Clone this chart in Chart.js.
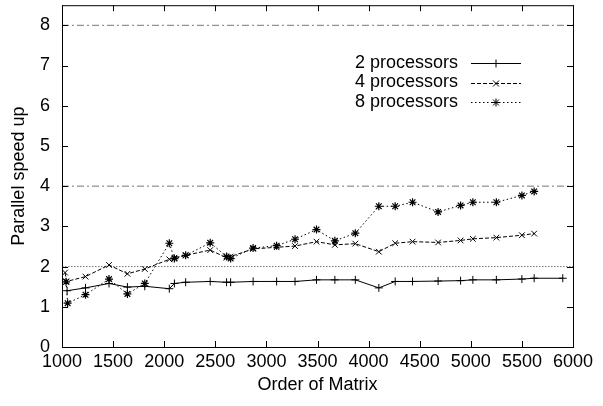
<!DOCTYPE html>
<html>
<head>
<meta charset="utf-8">
<script src="https://cdn.jsdelivr.net/npm/chart.js@4.4.0/dist/chart.umd.min.js"></script>
<style>
html, body { margin: 0; padding: 0; background: #fff; }
</style>
</head>
<body>
<canvas id="myChart" width="603" height="406"></canvas>
<script>
// data
const order2 = [1050, 1230, 1460, 1640, 1810, 2050, 2100, 2210, 2450, 2610, 2650, 2870, 3100, 3280, 3490, 3670, 3870, 4100, 4260, 4430, 4680, 4900, 5020, 5250, 5500, 5620, 5900];
const speed2 = [1.40, 1.47, 1.58, 1.49, 1.51, 1.45, 1.58, 1.61, 1.63, 1.61, 1.61, 1.63, 1.63, 1.63, 1.67, 1.67, 1.67, 1.47, 1.63, 1.63, 1.64, 1.65, 1.67, 1.67, 1.69, 1.71, 1.71];

const order4 = [1030, 1045, 1230, 1460, 1640, 1810, 2050, 2100, 2210, 2450, 2610, 2650, 2870, 3100, 3280, 3490, 3670, 3870, 4100, 4260, 4430, 4680, 4900, 5020, 5250, 5500, 5620];
const speed4 = [1.85, 1.63, 1.75, 2.04, 1.82, 1.94, 2.18, 2.22, 2.28, 2.41, 2.22, 2.25, 2.44, 2.48, 2.51, 2.62, 2.54, 2.57, 2.37, 2.58, 2.62, 2.60, 2.65, 2.69, 2.72, 2.78, 2.82];

const order8 = [1040, 1055, 1230, 1460, 1640, 1810, 2050, 2100, 2210, 2450, 2610, 2650, 2870, 3100, 3280, 3490, 3670, 3870, 4100, 4260, 4430, 4680, 4900, 5020, 5250, 5500, 5620];
const speed8 = [1.62, 1.09, 1.30, 1.69, 1.32, 1.58, 2.58, 2.20, 2.28, 2.59, 2.25, 2.20, 2.46, 2.52, 2.68, 2.92, 2.64, 2.83, 3.50, 3.50, 3.60, 3.36, 3.52, 3.60, 3.60, 3.77, 3.87];

const seriesNames = ['2 processors', '4 processors', '8 processors'];
const refLevels = [8, 4, 2];
const xRange = [1000, 6000];
const yTicks = [0, 1, 2, 3, 4, 5, 6, 7, 8];

function pts(xs, ys) {
    return xs.map((x, i) => ({x: x, y: ys[i]}));
}

function refLine(level, dash) {
    return {
        label: 'ref' + level,
        data: xRange.map(x => ({x: x, y: level})),
        borderColor: '#777',
        borderWidth: 1,
        borderDash: dash,
        pointRadius: 0,
        fill: false
    };
}

function mark(ctx, style, x, y, r) {
    ctx.beginPath();
    if (style === 'cross' || style === 'star') {
        ctx.moveTo(x - r, y); ctx.lineTo(x + r, y);
        ctx.moveTo(x, y - r); ctx.lineTo(x, y + r);
    }
    if (style === 'crossRot' || style === 'star') {
        const d = r * 0.75;
        ctx.moveTo(x - d, y - d); ctx.lineTo(x + d, y + d);
        ctx.moveTo(x - d, y + d); ctx.lineTo(x + d, y - d);
    }
    ctx.stroke();
}

// border box with inward ticks, like gnuplot
const framePlugin = {
    id: 'frame',
    afterDatasetsDraw(chart) {
        const {ctx, chartArea: a, scales} = chart;
        ctx.save();
        ctx.strokeStyle = '#000';
        ctx.lineWidth = 1;
        ctx.setLineDash([]);
        ctx.strokeRect(a.left + 0.5, a.top + 0.5, a.right - a.left, a.bottom - a.top);
        ctx.beginPath();
        scales.y.ticks.forEach(t => {
            const py = Math.round(scales.y.getPixelForValue(t.value)) + 0.5;
            ctx.moveTo(a.left, py); ctx.lineTo(a.left + 6, py);
            ctx.moveTo(a.right, py); ctx.lineTo(a.right - 6, py);
        });
        scales.x.ticks.forEach(t => {
            const px = Math.round(scales.x.getPixelForValue(t.value)) + 0.5;
            ctx.moveTo(px, a.bottom); ctx.lineTo(px, a.bottom - 6);
            ctx.moveTo(px, a.top); ctx.lineTo(px, a.top + 6);
        });
        ctx.stroke();
        ctx.restore();
    }
};

// key in the upper right, text before the line sample
const keyPlugin = {
    id: 'key',
    afterDatasetsDraw(chart) {
        const ctx = chart.ctx;
        ctx.save();
        ctx.font = '18px "Liberation Sans", Arial, sans-serif';
        ctx.fillStyle = '#000';
        ctx.textAlign = 'right';
        ctx.textBaseline = 'middle';
        seriesNames.forEach((name, i) => {
            const ds = chart.data.datasets[i];
            const y = 63 + i * 19.5;
            ctx.fillText(name, 458, y);
            ctx.strokeStyle = '#000';
            ctx.lineWidth = 1;
            ctx.setLineDash(ds.borderDash || []);
            ctx.beginPath();
            ctx.moveTo(471, Math.round(y) + 0.5);
            ctx.lineTo(521, Math.round(y) + 0.5);
            ctx.stroke();
            ctx.setLineDash([]);
            mark(ctx, ds.pointStyle, 496, Math.round(y) + 0.5, 4);
        });
        ctx.restore();
    }
};

Chart.defaults.font.family = '"Liberation Sans", Arial, sans-serif';
Chart.defaults.font.size = 18;
Chart.defaults.color = '#000';

let myChart = document.getElementById('myChart').getContext('2d');
let lineChart = new Chart(myChart, {
    type: 'line',
    data: {
        datasets: [
            {
                label: seriesNames[0],
                data: pts(order2, speed2),
                borderColor: '#000',
                borderWidth: 1,
                pointStyle: 'cross',
                pointRadius: 4,
                pointBorderColor: '#000',
                pointBorderWidth: 1
            },
            {
                label: seriesNames[1],
                data: pts(order4, speed4),
                borderColor: '#000',
                borderWidth: 1,
                borderDash: [4, 2],
                pointStyle: 'crossRot',
                pointRadius: 4,
                pointBorderColor: '#000',
                pointBorderWidth: 1
            },
            {
                label: seriesNames[2],
                data: pts(order8, speed8),
                borderColor: '#000',
                borderWidth: 1,
                borderDash: [1.5, 2.5],
                pointStyle: 'star',
                pointRadius: 4,
                pointBorderColor: '#000',
                pointBorderWidth: 1.2
            },
            refLine(refLevels[0], [7, 3, 2, 3]),
            refLine(refLevels[1], [7, 3, 2, 3]),
            refLine(refLevels[2], [1.5, 1.5])
        ]
    },
    options: {
        responsive: false,
        animation: false,
        layout: {padding: {top: 2, right: 30, left: 0, bottom: 0}},
        plugins: {
            legend: {display: false},
            tooltip: {enabled: false}
        },
        scales: {
            x: {
                type: 'linear',
                min: xRange[0],
                max: xRange[1],
                grid: {display: false, drawTicks: false},
                border: {display: false},
                ticks: {
                    stepSize: 500, padding: 4, maxRotation: 0, autoSkip: false,
                    callback: v => String(v)
                },
                title: {display: true, text: 'Order of Matrix', padding: {top: 0, bottom: 10}},
                afterFit(scale) {
                    scale.height = 59;
                    scale.paddingLeft = 0;
                    scale.paddingRight = 0;
                }
            },
            y: {
                type: 'linear',
                min: 0,
                max: 8.5,
                grid: {display: false, drawTicks: false},
                border: {display: false},
                ticks: {padding: 12, callback: v => String(v)},
                title: {display: true, text: 'Parallel speed up', padding: {top: 8, bottom: 0}},
                afterBuildTicks(scale) {
                    scale.ticks = yTicks.map(v => ({value: v}));
                },
                afterFit(scale) {
                    scale.width = 62;
                    scale.paddingTop = 0;
                    scale.paddingBottom = 0;
                }
            }
        }
    },
    plugins: [framePlugin, keyPlugin]
});
</script>
</body>
</html>
